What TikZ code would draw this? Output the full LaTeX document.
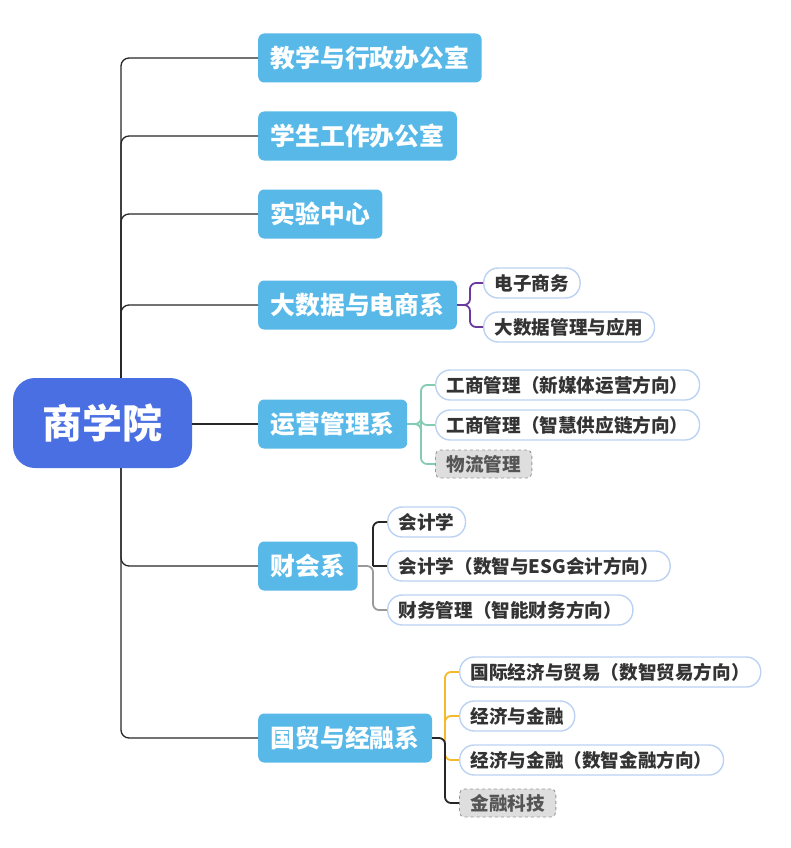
\documentclass[tikz,border=0pt]{standalone}
\usepackage{fontspec}
\newfontfamily\cjk{Noto Sans CJK SC}
\usetikzlibrary{calc}
\definecolor{rootblue}{HTML}{4A6FE3}
\definecolor{lvblue}{HTML}{58B9E9}
\definecolor{lvborder}{HTML}{BCD2F3}
\definecolor{txtdark}{HTML}{333333}
\definecolor{cpurple}{HTML}{6B3A9E}
\definecolor{cteal}{HTML}{84CBB4}
\definecolor{corange}{HTML}{F5B92C}
\definecolor{cgray}{HTML}{999999}
\definecolor{dashfill}{HTML}{DEDEDE}
\definecolor{dashtext}{HTML}{555555}
\tikzset{
  rootbox/.style={fill=rootblue, text=white, rounded corners=22pt, minimum width=179pt, minimum height=90pt, inner sep=0pt, font=\cjk\bfseries\fontsize{40}{40}\selectfont},
  deptbox/.style={fill=lvblue, text=white, rounded corners=6pt, minimum height=49pt, inner xsep=12.5pt, inner ysep=0pt, anchor=west, font=\cjk\bfseries\fontsize{24.8}{24.8}\selectfont},
  majorbox/.style={draw=lvborder, line width=1.4pt, fill=white, text=txtdark, rounded corners=14.5pt, minimum height=30pt, inner xsep=11pt, inner ysep=0pt, anchor=west, font=\cjk\bfseries\fontsize{18.6}{18.6}\selectfont},
  dashbox/.style={draw=gray!80, dashed, line width=0.9pt, fill=dashfill, text=dashtext, rounded corners=5pt, minimum height=28pt, inner xsep=11pt, inner ysep=0pt, anchor=west, font=\cjk\bfseries\fontsize{18.6}{18.6}\selectfont},
  trunkline/.style={draw=black!85, line width=1.3pt, rounded corners=8pt},
  subline/.style={line width=1.8pt, rounded corners=6pt},
}
\begin{document}
\begin{tikzpicture}[x=1pt,y=-1pt]
\useasboundingbox (0,0) rectangle (790,848);
% root
\node[rootbox] (root) at (102.5,423) {商学院};
% departments
\node[deptbox] (d1) at (258,58) {教学与行政办公室};
\node[deptbox] (d2) at (258,136) {学生工作办公室};
\node[deptbox] (d3) at (258,214) {实验中心};
\node[deptbox] (d4) at (258,305) {大数据与电商系};
\node[deptbox] (d5) at (258,424) {运营管理系};
\node[deptbox] (d6) at (258,566) {财会系};
\node[deptbox] (d7) at (258,738) {国贸与经融系};
% majors
\node[majorbox] (m41) at (483,283) {电子商务};
\node[majorbox] (m42) at (483,327) {大数据管理与应用};
\node[majorbox] (m51) at (435,385) {工商管理（新媒体运营方向）};
\node[majorbox] (m52) at (435,425) {工商管理（智慧供应链方向）};
\node[dashbox] (m53) at (435,464) {物流管理};
\node[majorbox] (m61) at (387,522) {会计学};
\node[majorbox] (m62) at (387,566) {会计学（数智与ESG会计方向）};
\node[majorbox] (m63) at (387,610) {财务管理（智能财务方向）};
\node[majorbox] (m71) at (459,672) {国际经济与贸易（数智贸易方向）};
\node[majorbox] (m72) at (459,716) {经济与金融};
\node[majorbox] (m73) at (459,760) {经济与金融（数智金融方向）};
\node[dashbox] (m74) at (459,803) {金融科技};
% trunk connectors
\coordinate (tt) at ([xshift=18.5pt]root.north);
\coordinate (tb) at ([xshift=18.5pt]root.south);
\foreach \d in {d1,d2,d3,d4} \draw[trunkline] (tt) |- (\d.west);
\foreach \d in {d6,d7} \draw[trunkline] (tb) |- (\d.west);
\draw[trunkline] (root.east |- d5.west) -- (d5.west);
% department 4 connectors
\foreach \m in {m41,m42} \draw[subline, cpurple] (d4.east) -- ($(d4.east -| m41.west)+(-13,0)$) |- (\m.west);
% department 5
\foreach \m in {m51,m52,m53} \draw[subline, cteal] (d5.east) -- ($(d5.east -| m51.west)+(-14,0)$) |- (\m.west);
% department 6
\draw[subline, cgray] (d6.east) -- ($(d6.east -| m61.west)+(-14,0)$) |- (m63.west);
\draw[subline, black!85] ($(d6.east -| m61.west)+(-14,0)$) |- (m61.west);
\draw[subline, black!85] ($(d6.east -| m61.west)+(-14,0)$) -- (m62.west);
% department 7
\foreach \m in {m71,m72,m73} \draw[subline, corange] ($(d7.east -| m71.west)+(-14,0)$) |- (\m.west);
\draw[subline, black!85] (d7.east) -- ($(d7.east -| m71.west)+(-14,0)$) |- (m74.west);
\end{tikzpicture}
\end{document}
